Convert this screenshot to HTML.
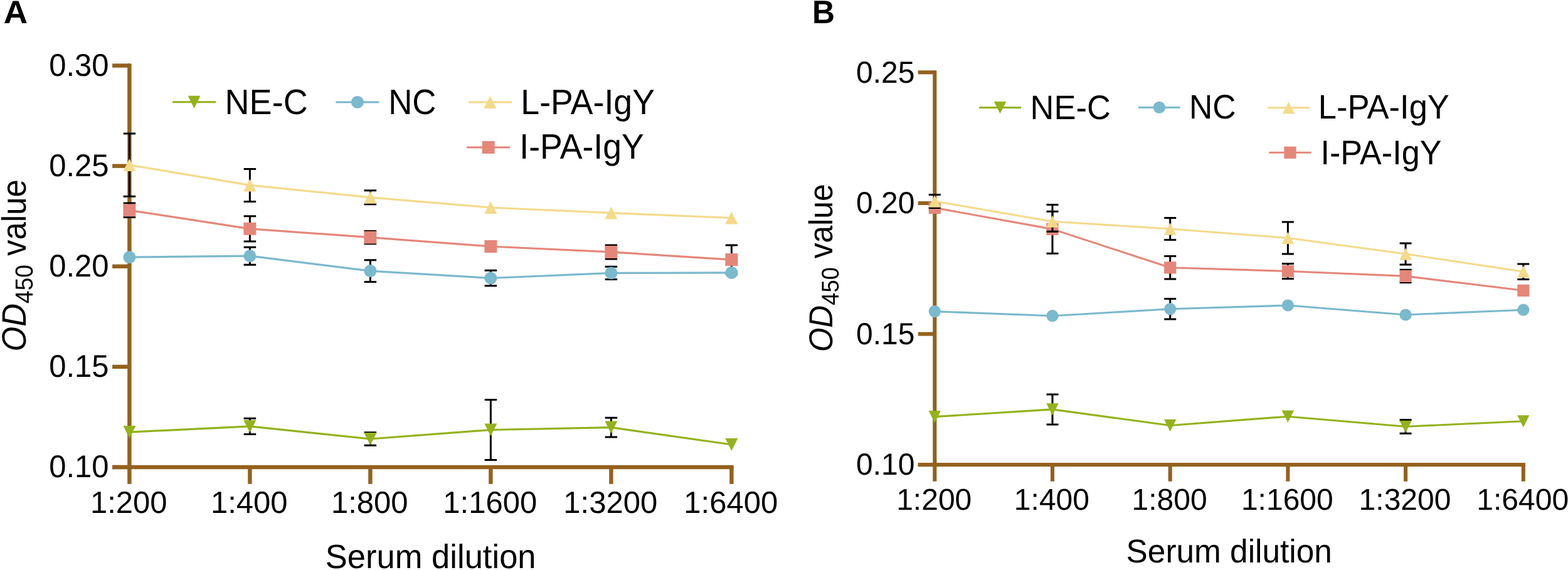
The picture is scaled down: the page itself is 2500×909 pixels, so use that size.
<!DOCTYPE html>
<html><head><meta charset="utf-8"><title>OD450 value vs serum dilution</title>
<style>
html,body{margin:0;padding:0;background:#fff;}
body{width:2500px;height:909px;overflow:hidden;}
svg{display:block;}
text{font-family:'Liberation Sans', Arial, Helvetica, sans-serif;fill:#000;text-rendering:geometricPrecision;}
</style></head><body>
<svg width="2500" height="909" viewBox="0 0 2500 909">
<rect width="2500" height="909" fill="#fff"/>
<rect x="203.2" y="101.4" width="6.4" height="670.4" fill="#94611e"/>
<rect x="179.1" y="101.4" width="27.3" height="6.4" fill="#94611e"/>
<rect x="179.1" y="261.5" width="27.3" height="6.4" fill="#94611e"/>
<rect x="179.1" y="421.6" width="27.3" height="6.4" fill="#94611e"/>
<rect x="179.1" y="581.7" width="27.3" height="6.4" fill="#94611e"/>
<rect x="179.1" y="741.8" width="27.3" height="6.4" fill="#94611e"/>
<rect x="179.1" y="741.8" width="990.5" height="6.4" fill="#94611e"/>
<rect x="395.2" y="745" width="6.4" height="26.8" fill="#94611e"/>
<rect x="587.2" y="745" width="6.4" height="26.8" fill="#94611e"/>
<rect x="779.2" y="745" width="6.4" height="26.8" fill="#94611e"/>
<rect x="971.2" y="745" width="6.4" height="26.8" fill="#94611e"/>
<rect x="1163.2" y="745" width="6.4" height="26.8" fill="#94611e"/>
<polyline points="206.4,335.3 398.4,364.8 590.4,378.6 782.4,393 974.4,401.9 1166.4,414.1" fill="none" stroke="#e4877a" stroke-width="3.25" stroke-linejoin="round"/>
<path d="M206.4,324.1V346.5M196.65,324.1H216.15M196.65,346.5H216.15" stroke="#000" stroke-width="3.0" fill="none"/>
<path d="M398.4,344.7V384.9M388.65,344.7H408.15M388.65,384.9H408.15" stroke="#000" stroke-width="3.0" fill="none"/>
<path d="M590.4,368.4V388.8M580.65,368.4H600.15M580.65,388.8H600.15" stroke="#000" stroke-width="3.0" fill="none"/>
<path d="M974.4,390.9V412.9M964.65,390.9H984.15M964.65,412.9H984.15" stroke="#000" stroke-width="3.0" fill="none"/>
<path d="M1166.4,390.9V437.3M1156.65,390.9H1176.15M1156.65,437.3H1176.15" stroke="#000" stroke-width="3.0" fill="none"/>
<rect x="196.4" y="325.3" width="20" height="20" fill="#e4877a"/>
<rect x="388.4" y="354.8" width="20" height="20" fill="#e4877a"/>
<rect x="580.4" y="368.6" width="20" height="20" fill="#e4877a"/>
<rect x="772.4" y="383" width="20" height="20" fill="#e4877a"/>
<rect x="964.4" y="391.9" width="20" height="20" fill="#e4877a"/>
<rect x="1156.4" y="404.1" width="20" height="20" fill="#e4877a"/>
<polyline points="206.4,263.1 398.4,295.4 590.4,314.8 782.4,331 974.4,339.6 1166.4,347.5" fill="none" stroke="#f4da8a" stroke-width="3.25" stroke-linejoin="round"/>
<path d="M206.4,212.9V313.3M196.65,212.9H216.15M196.65,313.3H216.15" stroke="#000" stroke-width="3.0" fill="none"/>
<path d="M398.4,269.4V321.4M388.65,269.4H408.15M388.65,321.4H408.15" stroke="#000" stroke-width="3.0" fill="none"/>
<path d="M590.4,303.8V325.8M580.65,303.8H600.15M580.65,325.8H600.15" stroke="#000" stroke-width="3.0" fill="none"/>
<polygon points="196.4,273.1 216.4,273.1 206.4,253.1" fill="#f4da8a"/>
<polygon points="388.4,305.4 408.4,305.4 398.4,285.4" fill="#f4da8a"/>
<polygon points="580.4,324.8 600.4,324.8 590.4,304.8" fill="#f4da8a"/>
<polygon points="772.4,341 792.4,341 782.4,321" fill="#f4da8a"/>
<polygon points="964.4,349.6 984.4,349.6 974.4,329.6" fill="#f4da8a"/>
<polygon points="1156.4,357.5 1176.4,357.5 1166.4,337.5" fill="#f4da8a"/>
<polyline points="206.4,410.2 398.4,408.2 590.4,432.1 782.4,443.5 974.4,435.4 1166.4,434.9" fill="none" stroke="#7bb9cd" stroke-width="3.25" stroke-linejoin="round"/>
<path d="M398.4,394.2V422.2M388.65,394.2H408.15M388.65,422.2H408.15" stroke="#000" stroke-width="3.0" fill="none"/>
<path d="M590.4,414.8V449.4M580.65,414.8H600.15M580.65,449.4H600.15" stroke="#000" stroke-width="3.0" fill="none"/>
<path d="M782.4,431.3V455.7M772.65,431.3H792.15M772.65,455.7H792.15" stroke="#000" stroke-width="3.0" fill="none"/>
<path d="M974.4,425.3V445.5M964.65,425.3H984.15M964.65,445.5H984.15" stroke="#000" stroke-width="3.0" fill="none"/>
<circle cx="206.4" cy="410.2" r="10" fill="#7bb9cd"/>
<circle cx="398.4" cy="408.2" r="10" fill="#7bb9cd"/>
<circle cx="590.4" cy="432.1" r="10" fill="#7bb9cd"/>
<circle cx="782.4" cy="443.5" r="10" fill="#7bb9cd"/>
<circle cx="974.4" cy="435.4" r="10" fill="#7bb9cd"/>
<circle cx="1166.4" cy="434.9" r="10" fill="#7bb9cd"/>
<polyline points="206.4,689.1 398.4,679.9 590.4,700 782.4,685.5 974.4,681.6 1166.4,709" fill="none" stroke="#94b21c" stroke-width="3.25" stroke-linejoin="round"/>
<path d="M398.4,667.2V692.6M388.65,667.2H408.15M388.65,692.6H408.15" stroke="#000" stroke-width="3.0" fill="none"/>
<path d="M590.4,689.8V710.2M580.65,689.8H600.15M580.65,710.2H600.15" stroke="#000" stroke-width="3.0" fill="none"/>
<path d="M782.4,637.5V733.5M772.65,637.5H792.15M772.65,733.5H792.15" stroke="#000" stroke-width="3.0" fill="none"/>
<path d="M974.4,666.2V697M964.65,666.2H984.15M964.65,697H984.15" stroke="#000" stroke-width="3.0" fill="none"/>
<polygon points="196.4,679.1 216.4,679.1 206.4,699.1" fill="#94b21c"/>
<polygon points="388.4,669.9 408.4,669.9 398.4,689.9" fill="#94b21c"/>
<polygon points="580.4,690 600.4,690 590.4,710" fill="#94b21c"/>
<polygon points="772.4,675.5 792.4,675.5 782.4,695.5" fill="#94b21c"/>
<polygon points="964.4,671.6 984.4,671.6 974.4,691.6" fill="#94b21c"/>
<polygon points="1156.4,699 1176.4,699 1166.4,719" fill="#94b21c"/>
<rect x="275" y="161.15" width="69.1" height="3.1" fill="#94b21c"/>
<polygon points="299.55,152.7 319.55,152.7 309.55,172.7" fill="#94b21c"/>
<rect x="535.4" y="161.35" width="69" height="3.1" fill="#7bb9cd"/>
<circle cx="569.9" cy="162.9" r="10" fill="#7bb9cd"/>
<rect x="747" y="161.45" width="69" height="3.1" fill="#f4da8a"/>
<polygon points="771.5,173 791.5,173 781.5,153" fill="#f4da8a"/>
<rect x="744.2" y="233.45" width="69" height="3.1" fill="#e4877a"/>
<rect x="768.7" y="225" width="20" height="20" fill="#e4877a"/>
<rect x="1487.25" y="112.35" width="6.1" height="655.35" fill="#94611e"/>
<rect x="1463.7" y="112.35" width="26.6" height="6.1" fill="#94611e"/>
<rect x="1463.7" y="320.95" width="26.6" height="6.1" fill="#94611e"/>
<rect x="1463.7" y="529.55" width="26.6" height="6.1" fill="#94611e"/>
<rect x="1463.7" y="738.05" width="26.6" height="6.1" fill="#94611e"/>
<rect x="1463.7" y="738.05" width="968.15" height="6.1" fill="#94611e"/>
<rect x="1674.95" y="741.1" width="6.1" height="26.6" fill="#94611e"/>
<rect x="1862.65" y="741.1" width="6.1" height="26.6" fill="#94611e"/>
<rect x="2050.35" y="741.1" width="6.1" height="26.6" fill="#94611e"/>
<rect x="2238.05" y="741.1" width="6.1" height="26.6" fill="#94611e"/>
<rect x="2425.75" y="741.1" width="6.1" height="26.6" fill="#94611e"/>
<polyline points="1490.3,331.4 1678,365.4 1865.7,426.8 2053.4,432.5 2241.1,440.4 2428.8,463.3" fill="none" stroke="#e4877a" stroke-width="3.1" stroke-linejoin="round"/>
<path d="M1678,326.6V404.2M1668.5,326.6H1687.5M1668.5,404.2H1687.5" stroke="#000" stroke-width="3.0" fill="none"/>
<path d="M1865.7,408.6V445M1856.2,408.6H1875.2M1856.2,445H1875.2" stroke="#000" stroke-width="3.0" fill="none"/>
<path d="M2053.4,420.4V444.6M2043.9,420.4H2062.9M2043.9,444.6H2062.9" stroke="#000" stroke-width="3.0" fill="none"/>
<path d="M2241.1,430.2V450.6M2231.6,430.2H2250.6M2231.6,450.6H2250.6" stroke="#000" stroke-width="3.0" fill="none"/>
<rect x="1480.7" y="321.8" width="19.2" height="19.2" fill="#e4877a"/>
<rect x="1668.4" y="355.8" width="19.2" height="19.2" fill="#e4877a"/>
<rect x="1856.1" y="417.2" width="19.2" height="19.2" fill="#e4877a"/>
<rect x="2043.8" y="422.9" width="19.2" height="19.2" fill="#e4877a"/>
<rect x="2231.5" y="430.8" width="19.2" height="19.2" fill="#e4877a"/>
<rect x="2419.2" y="453.7" width="19.2" height="19.2" fill="#e4877a"/>
<polyline points="1490.3,321 1678,353.2 1865.7,365 2053.4,379.5 2241.1,405 2428.8,433.2" fill="none" stroke="#f4da8a" stroke-width="3.1" stroke-linejoin="round"/>
<path d="M1490.3,310.6V331.4M1480.8,310.6H1499.8M1480.8,331.4H1499.8" stroke="#000" stroke-width="3.0" fill="none"/>
<path d="M1678,337.2V369.2M1668.5,337.2H1687.5M1668.5,369.2H1687.5" stroke="#000" stroke-width="3.0" fill="none"/>
<path d="M1865.7,347.4V382.6M1856.2,347.4H1875.2M1856.2,382.6H1875.2" stroke="#000" stroke-width="3.0" fill="none"/>
<path d="M2053.4,354V405M2043.9,354H2062.9M2043.9,405H2062.9" stroke="#000" stroke-width="3.0" fill="none"/>
<path d="M2241.1,388.1V421.9M2231.6,388.1H2250.6M2231.6,421.9H2250.6" stroke="#000" stroke-width="3.0" fill="none"/>
<path d="M2428.8,421V445.4M2419.3,421H2438.3M2419.3,445.4H2438.3" stroke="#000" stroke-width="3.0" fill="none"/>
<polygon points="1480.6,330.65 1500,330.65 1490.3,311.35" fill="#f4da8a"/>
<polygon points="1668.3,362.85 1687.7,362.85 1678,343.55" fill="#f4da8a"/>
<polygon points="1856,374.65 1875.4,374.65 1865.7,355.35" fill="#f4da8a"/>
<polygon points="2043.7,389.15 2063.1,389.15 2053.4,369.85" fill="#f4da8a"/>
<polygon points="2231.4,414.65 2250.8,414.65 2241.1,395.35" fill="#f4da8a"/>
<polygon points="2419.1,442.85 2438.5,442.85 2428.8,423.55" fill="#f4da8a"/>
<polyline points="1490.3,496.6 1678,503.7 1865.7,492.7 2053.4,487 2241.1,502 2428.8,494.2" fill="none" stroke="#7bb9cd" stroke-width="3.1" stroke-linejoin="round"/>
<path d="M1865.7,476.5V508.9M1856.2,476.5H1875.2M1856.2,508.9H1875.2" stroke="#000" stroke-width="3.0" fill="none"/>
<circle cx="1490.3" cy="496.6" r="9.6" fill="#7bb9cd"/>
<circle cx="1678" cy="503.7" r="9.6" fill="#7bb9cd"/>
<circle cx="1865.7" cy="492.7" r="9.6" fill="#7bb9cd"/>
<circle cx="2053.4" cy="487" r="9.6" fill="#7bb9cd"/>
<circle cx="2241.1" cy="502" r="9.6" fill="#7bb9cd"/>
<circle cx="2428.8" cy="494.2" r="9.6" fill="#7bb9cd"/>
<polyline points="1490.3,664.6 1678,652.9 1865.7,678.5 2053.4,664.2 2241.1,680.3 2428.8,671.8" fill="none" stroke="#94b21c" stroke-width="3.1" stroke-linejoin="round"/>
<path d="M1678,628.9V676.9M1668.5,628.9H1687.5M1668.5,676.9H1687.5" stroke="#000" stroke-width="3.0" fill="none"/>
<path d="M2241.1,669.4V691.2M2231.6,669.4H2250.6M2231.6,691.2H2250.6" stroke="#000" stroke-width="3.0" fill="none"/>
<polygon points="1480.6,654.95 1500,654.95 1490.3,674.25" fill="#94b21c"/>
<polygon points="1668.3,643.25 1687.7,643.25 1678,662.55" fill="#94b21c"/>
<polygon points="1856,668.85 1875.4,668.85 1865.7,688.15" fill="#94b21c"/>
<polygon points="2043.7,654.55 2063.1,654.55 2053.4,673.85" fill="#94b21c"/>
<polygon points="2231.4,670.65 2250.8,670.65 2241.1,689.95" fill="#94b21c"/>
<polygon points="2419.1,662.15 2438.5,662.15 2428.8,681.45" fill="#94b21c"/>
<rect x="1561.1" y="170.1" width="66.9" height="3" fill="#94b21c"/>
<polygon points="1584.85,161.95 1604.25,161.95 1594.55,181.25" fill="#94b21c"/>
<rect x="1814.9" y="169.9" width="66.9" height="3" fill="#7bb9cd"/>
<circle cx="1848.35" cy="171.4" r="9.6" fill="#7bb9cd"/>
<rect x="2020.9" y="170.3" width="67.2" height="3" fill="#f4da8a"/>
<polygon points="2044.8,181.45 2064.2,181.45 2054.5,162.15" fill="#f4da8a"/>
<rect x="2023.4" y="241.8" width="67.2" height="3" fill="#e4877a"/>
<rect x="2047.4" y="233.7" width="19.2" height="19.2" fill="#e4877a"/>
<text transform="translate(173.58,121.02) scale(1.0102,1.0339)" font-size="48.5" text-anchor="end">0.30</text>
<text transform="translate(173.58,281.12) scale(1.0102,1.0339)" font-size="48.5" text-anchor="end">0.25</text>
<text transform="translate(173.58,441.22) scale(1.0102,1.0339)" font-size="48.5" text-anchor="end">0.20</text>
<text transform="translate(173.58,601.32) scale(1.0102,1.0339)" font-size="48.5" text-anchor="end">0.15</text>
<text transform="translate(173.58,761.42) scale(1.0102,1.0339)" font-size="48.5" text-anchor="end">0.10</text>
<text transform="translate(205.28,817.75) scale(1.0104,1.0118)" font-size="48.5" text-anchor="middle">1:200</text>
<text transform="translate(397.28,817.75) scale(1.0104,1.0118)" font-size="48.5" text-anchor="middle">1:400</text>
<text transform="translate(589.28,817.75) scale(1.0104,1.0118)" font-size="48.5" text-anchor="middle">1:800</text>
<text transform="translate(781.28,817.75) scale(1.0104,1.0118)" font-size="48.5" text-anchor="middle">1:1600</text>
<text transform="translate(973.28,817.75) scale(1.0104,1.0118)" font-size="48.5" text-anchor="middle">1:3200</text>
<text transform="translate(1165.28,817.75) scale(1.0104,1.0118)" font-size="48.5" text-anchor="middle">1:6400</text>
<text transform="translate(358.53,182.07) scale(1.0012,1.0453)" font-size="54">NE-C</text>
<text transform="translate(619.21,182.11) scale(0.9784,1.0453)" font-size="54">NC</text>
<text transform="translate(830.34,181.81) scale(0.9930,1.0463)" font-size="54">L-PA-IgY</text>
<text transform="translate(828.29,253.46) scale(0.9920,1.0463)" font-size="54">I-PA-IgY</text>
<text transform="translate(686.63,905.53) scale(0.9916,1.0134)" font-size="53" text-anchor="middle">Serum dilution</text>
<text transform="translate(40.89,423.27) rotate(-90) scale(0.9266,0.9842)" font-size="55" text-anchor="middle"><tspan font-style="italic">OD</tspan><tspan font-size="40" dy="11.3">450</tspan><tspan dy="-11.3"> value</tspan></text>
<text transform="translate(5.63,36.9) scale(1.0428,1.0150)" font-size="51" font-weight="bold">A</text>
<text transform="translate(1458.4,131.54) scale(1.0148,1.0322)" font-size="47.3" text-anchor="end">0.25</text>
<text transform="translate(1458.4,340.14) scale(1.0148,1.0322)" font-size="47.3" text-anchor="end">0.20</text>
<text transform="translate(1458.4,548.74) scale(1.0148,1.0322)" font-size="47.3" text-anchor="end">0.15</text>
<text transform="translate(1458.4,757.24) scale(1.0148,1.0322)" font-size="47.3" text-anchor="end">0.10</text>
<text transform="translate(1489.22,812.78) scale(1.0151,1.0179)" font-size="47.3" text-anchor="middle">1:200</text>
<text transform="translate(1676.92,812.78) scale(1.0151,1.0179)" font-size="47.3" text-anchor="middle">1:400</text>
<text transform="translate(1864.62,812.78) scale(1.0151,1.0179)" font-size="47.3" text-anchor="middle">1:800</text>
<text transform="translate(2052.32,812.78) scale(1.0151,1.0179)" font-size="47.3" text-anchor="middle">1:1600</text>
<text transform="translate(2240.02,812.78) scale(1.0151,1.0179)" font-size="47.3" text-anchor="middle">1:3200</text>
<text transform="translate(2427.72,812.78) scale(1.0151,1.0179)" font-size="47.3" text-anchor="middle">1:6400</text>
<text transform="translate(1642.54,189.76) scale(0.9975,1.0318)" font-size="52.6">NE-C</text>
<text transform="translate(1895.94,189.42) scale(0.9814,1.0318)" font-size="52.6">NC</text>
<text transform="translate(2101.85,189.46) scale(0.9977,1.0314)" font-size="52.6">L-PA-IgY</text>
<text transform="translate(2105.42,261.65) scale(0.9903,1.0383)" font-size="52.6">I-PA-IgY</text>
<text transform="translate(1959.7,896.98) scale(0.9876,1.0100)" font-size="52" text-anchor="middle">Serum dilution</text>
<text transform="translate(1326.61,427.31) rotate(-90) scale(0.9306,0.9891)" font-size="53.5" text-anchor="middle"><tspan font-style="italic">OD</tspan><tspan font-size="39" dy="11">450</tspan><tspan dy="-11"> value</tspan></text>
<text transform="translate(1295.01,36.7) scale(0.9765,1.0200)" font-size="51" font-weight="bold">B</text>
</svg>
</body></html>
